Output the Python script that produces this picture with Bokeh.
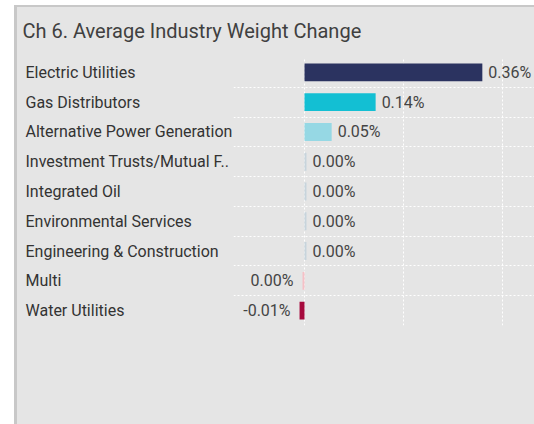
from bokeh.plotting import figure
from bokeh.models import FixedTicker, ColumnDataSource, Range1d, Spacer
from bokeh.layouts import row, column
from bokeh.embed import file_html
from bokeh.resources import INLINE
from bokeh.core.properties import value

title = "Ch 6. Average Industry Weight Change"
categories = ["Electric Utilities", "Gas Distributors", "Alternative Power Generation",
              "Investment Trusts/Mutual F..", "Integrated Oil", "Environmental Services",
              "Engineering & Construction", "Multi", "Water Utilities"]
values = [0.36, 0.144, 0.055, 0.004, 0.004, 0.004, 0.004, -0.004, -0.01]
value_labels = ["0.36%", "0.14%", "0.05%", "0.00%", "0.00%", "0.00%", "0.00%", "0.00%", "-0.01%"]
colors = ["#2b3360", "#13bfd3", "#96d8e4", "#c7d4dc", "#c7d4dc", "#c7d4dc", "#c7d4dc",
          "#f5c0c6", "#a60a3d"]
x_ticks = [0, 0.2, 0.4]

FONT = "Roboto"
BG = "#e5e5e5"
BORDER = "#c8c8c8"
n = len(categories)
ys = [n - 1 - i for i in range(n)]
y_range = Range1d(-0.5, n - 0.5)


def base(width, height, x_range, y_range, bottom=0):
    f = figure(width=width, height=height, x_range=x_range, y_range=y_range,
               output_backend="svg", toolbar_location=None,
               min_border_left=0, min_border_right=0, min_border_top=0,
               min_border_bottom=bottom,
               background_fill_color=BG, border_fill_color=BG, outline_line_color=None)
    f.xaxis.visible = False
    f.yaxis.visible = False
    f.xgrid.visible = False
    f.ygrid.visible = False
    return f


# title strip
tfig = base(517, 50, Range1d(0, 1), Range1d(0, 1))
tfig.text(x=[tfig.x_range.start], y=[tfig.y_range.end], text=[title], x_offset=5,
          y_offset=23, text_baseline="middle", text_align="left",
          text_font=value(FONT), text_font_size="20px", text_color="#404040")

# category labels
lfig = base(216, 367, Range1d(0, 1), y_range, bottom=99)
lsrc = ColumnDataSource(dict(x=[lfig.x_range.start] * n, y=ys, text=categories))
lfig.text(x="x", y="y", text="text", source=lsrc, x_offset=8, text_baseline="middle",
          text_align="left", text_font=value(FONT), text_font_size="16px",
          text_color="#333333")

# bars
p = base(301, 367, Range1d(-0.1437, 0.4656), y_range, bottom=99)
p.xgrid.visible = True
p.ygrid.visible = True
p.xgrid.ticker = FixedTicker(ticks=x_ticks)
p.xgrid.grid_line_color = "white"
p.xgrid.grid_line_dash = "2 2"
p.xgrid.grid_line_width = 1
p.ygrid.ticker = FixedTicker(ticks=[k + 0.5 for k in range(n - 1)])
p.ygrid.grid_line_color = "white"
p.ygrid.grid_line_dash = "2 2"
p.ygrid.grid_line_width = 1

src = ColumnDataSource(dict(
    y=ys, v=values, color=colors, label=value_labels,
    align=["left" if v >= 0 else "right" for v in values],
    xoff=[6 if v >= 0 else -9 for v in values],
))
p.hbar(y="y", left=0, right="v", height=0.6, fill_color="color", line_color=None, source=src)
p.text(x="v", y="y", text="label", text_align="align", x_offset="xoff",
       text_baseline="middle", text_font=value(FONT), text_font_size="16px",
       text_color="#444444", source=src)

left_gap = Spacer(width=14, height=424)
top_gap = Spacer(width=520, height=5)
top_border = Spacer(width=520, height=2, styles={"background-color": BORDER})
left_border = Spacer(width=3, height=417, styles={"background-color": BORDER})

body_row = row(lfig, p, styles={"background-color": BG})
panel = column(tfig, body_row, styles={"background-color": BG})
layout = row(left_gap,
             column(top_gap, top_border,
                    row(left_border, panel)))

open("out.html", "w").write(file_html(layout, INLINE))
